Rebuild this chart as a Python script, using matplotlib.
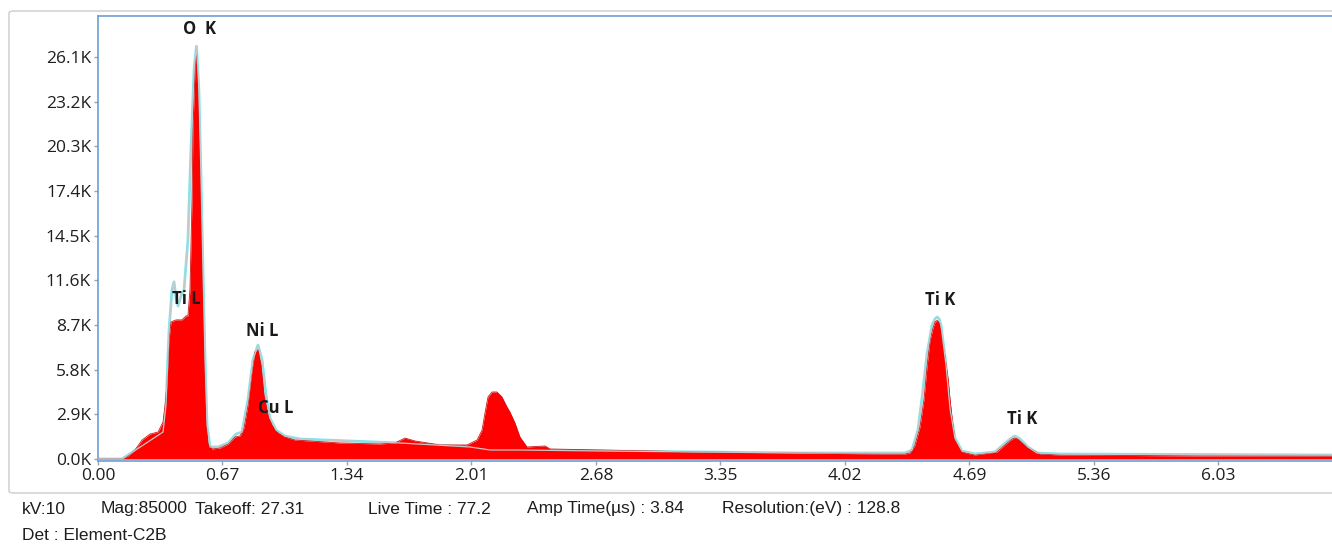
import numpy as np
import matplotlib
matplotlib.use('Agg')
import matplotlib.pyplot as plt
from matplotlib.patches import FancyBboxPatch

# measured spectrum (keV, counts)
energy = [0.000, 0.129, 0.161, 0.199, 0.237, 0.280, 0.323, 0.350, 0.361, 0.371,
          0.382, 0.393, 0.420, 0.452, 0.474, 0.484, 0.495, 0.506, 0.511, 0.522,
          0.530, 0.538, 0.549, 0.560, 0.571, 0.581, 0.592, 0.614, 0.657, 0.700,
          0.737, 0.764, 0.786, 0.807, 0.829, 0.845, 0.861, 0.877, 0.893, 0.915,
          0.936, 0.969, 1.006, 1.060, 1.141, 1.302, 1.518, 1.598, 1.652, 1.706,
          1.841, 1.986, 2.040, 2.067, 2.083, 2.099, 2.121, 2.147, 2.174, 2.201,
          2.217, 2.244, 2.271, 2.309, 2.406, 2.433, 2.702, 3.240, 3.778, 4.209,
          4.343, 4.370, 4.397, 4.424, 4.446, 4.462, 4.478, 4.494, 4.505, 4.516,
          4.527, 4.537, 4.559, 4.575, 4.586, 4.597, 4.612, 4.650, 4.720, 4.838,
          4.892, 4.920, 4.935, 4.950, 5.000, 5.070, 5.178, 5.931, 6.642]
counts = [0, 0, 195, 585, 1230, 1620, 1750, 2400, 3500, 4800,
          7730, 8900, 9030, 9030, 9290, 9290, 11000, 16800, 21400, 25300,
          26700, 23600, 18800, 12900, 6400, 2500, 975, 650, 715, 975,
          1430, 1490, 2010, 3500, 5780, 6950, 7080, 6100, 4160, 2860,
          2210, 1690, 1430, 1230, 1170, 1040, 975, 1040, 1360, 1170,
          910, 910, 1230, 1880, 2990, 4030, 4350, 4350, 4030, 3380,
          3050, 2340, 1430, 780, 845, 650, 585, 455, 390, 325,
          325, 390, 900, 2080, 3900, 6000, 7700, 8500, 8900, 9000,
          8850, 8300, 6600, 5200, 3800, 2600, 1230, 455, 260, 455,
          1040, 1300, 1360, 1300, 780, 325, 260, 195, 195]

# fitted spectrum
fit_energy = [0.000, 0.129, 0.350, 0.366, 0.382, 0.398, 0.409, 0.420, 0.431, 0.447,
              0.463, 0.484, 0.500, 0.517, 0.530, 0.543, 0.554, 0.565, 0.576, 0.587,
              0.603, 0.646, 0.700, 0.743, 0.775, 0.807, 0.834, 0.861, 0.883, 0.904,
              0.925, 0.958, 1.006, 1.087, 1.625, 2.002, 2.110, 2.271, 2.702, 3.778,
              4.343, 4.381, 4.413, 4.435, 4.462, 4.489, 4.505, 4.516, 4.527, 4.537,
              4.564, 4.586, 4.612, 4.650, 4.720, 4.828, 4.871, 4.909, 4.935, 4.962,
              5.005, 5.054, 5.178, 6.642]
fit_counts = [0, 0, 1750, 3500, 8300, 10970, 11500, 10450, 9930, 10600,
              10970, 14200, 20000, 25300, 26800, 24000, 18500, 12300, 6500, 2200,
              780, 780, 1040, 1620, 1750, 3830, 6430, 7400, 6430, 4160,
              2660, 1880, 1490, 1300, 1040, 780, 585, 585, 520, 390,
              390, 580, 1880, 3960, 6820, 8700, 9100, 9220, 9100, 8700,
              6100, 3250, 1360, 520, 325, 455, 910, 1300, 1490, 1300,
              780, 390, 325, 260]

peak_names = ['O  K', 'Ti L', 'Ni L', 'Cu L', 'Ti K', 'Ti K']
peak_x = [0.544, 0.477, 0.884, 0.957, 4.533, 4.975]
peak_y = [27900, 10400, 8300, 3300, 10300, 2600]

xticks = [0.00, 0.67, 1.34, 2.01, 2.68, 3.35, 4.02, 4.69, 5.36, 6.03]
yticks = [0, 2900, 5800, 8700, 11600, 14500, 17400, 20300, 23200, 26100]

info = ['kV:10', 'Mag:85000', 'Takeoff: 27.31', 'Live Time : 77.2',
        'Amp Time(\u00b5s) : 3.84', 'Resolution:(eV) : 128.8']
info_x = [22, 101, 195, 368, 527, 722]

W, H = 1332, 544
fig = plt.figure(figsize=(W / 100, H / 100), dpi=100)

# outer frame
frame = FancyBboxPatch((9 / W, 51 / H), 1.2, 482 / H,
                       boxstyle='round,pad=0,rounding_size=0.004',
                       transform=fig.transFigure, fc='none', ec='#d3d3d3', lw=1.2,
                       zorder=-1)
fig.patches.append(frame)

ax = fig.add_axes([98 / W, 83 / H, (W - 98) / W, 445 / H])
ax.set_facecolor('none')

# fit outline sits under the counts, its grey core on top
ax.plot(fit_energy, fit_counts, color='#7fe6ee', lw=2.0, zorder=2)
ax.fill_between(energy, counts, 0, color='#ff0000', lw=0, zorder=3)
ax.plot(energy, counts, color='#d41414', lw=0.6, zorder=3)
ax.plot(fit_energy, fit_counts, color='#c8c8c8', lw=0.9, zorder=4)

ax.set_xlim(0, (W - 98) / 185.8)
ax.set_ylim(-130, 28760)

blue = '#6d9fd2'
for s in ['left', 'top', 'bottom']:
    ax.spines[s].set_color(blue)
    ax.spines[s].set_linewidth(1.2)
ax.spines['right'].set_visible(False)

tick_font = ['Open Sans', 'DejaVu Sans']
ax.set_xticks(xticks)
ax.set_xticklabels(['%.2f' % v for v in xticks], family=tick_font, fontsize=12.5, color='#1e1e1e')
ax.set_yticks(yticks)
ax.set_yticklabels(['%.1fK' % (v / 1000) for v in yticks], family=tick_font, fontsize=12.5, color='#1e1e1e')
ax.tick_params(axis='both', length=3, width=1, color='#8aa6c4', pad=2)

for name, x, y in zip(peak_names, peak_x, peak_y):
    ax.text(x, y, name, ha='center', va='center', fontsize=12, fontweight='bold',
            family=tick_font, color='#1a1a1a', zorder=5)

info_font = ['Liberation Sans', 'DejaVu Sans']
for t, x in zip(info, info_x):
    fig.text(x / W, 1 - 509 / H, t, ha='left', va='center', fontsize=12.5,
             family=info_font, color='#1e1e1e')
fig.text(22 / W, 1 - 535 / H, 'Det : Element-C2B', ha='left', va='center', fontsize=12.5,
         family=info_font, color='#1e1e1e')

fig.savefig('out.png', dpi=100)
